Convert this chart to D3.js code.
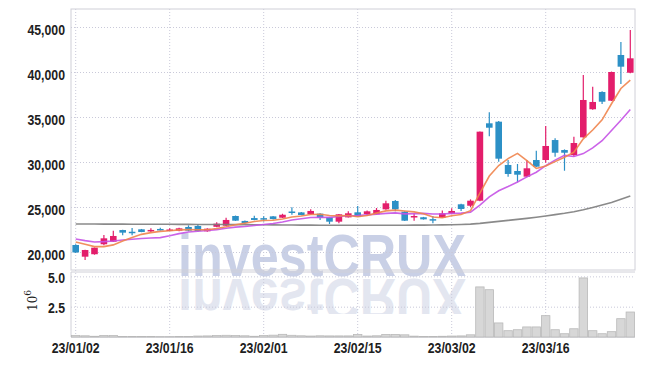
<!DOCTYPE html>
<html>
<head>
<meta charset="utf-8">
<script src="https://cdn.jsdelivr.net/npm/d3@7"></script>
<style>body{margin:0;background:#fff;}</style>
</head>
<body>
<script>
// trading days, 2023 (yy/mm/dd)
const dates = ["23/01/02","23/01/03","23/01/04","23/01/05","23/01/06","23/01/09","23/01/10","23/01/11","23/01/12","23/01/13",
  "23/01/16","23/01/17","23/01/18","23/01/19","23/01/20","23/01/25","23/01/26","23/01/27","23/01/30","23/01/31",
  "23/02/01","23/02/02","23/02/03","23/02/06","23/02/07","23/02/08","23/02/09","23/02/10","23/02/13","23/02/14",
  "23/02/15","23/02/16","23/02/17","23/02/20","23/02/21","23/02/22","23/02/23","23/02/24","23/02/27","23/02/28",
  "23/03/02","23/03/03","23/03/06","23/03/07","23/03/08","23/03/09","23/03/10","23/03/13","23/03/14","23/03/15",
  "23/03/16","23/03/17","23/03/20","23/03/21","23/03/22","23/03/23","23/03/24","23/03/27","23/03/28","23/03/29"];

const opens  = [20780,19480,19750,20860,21140,22440,22250,22520,22350,22560,
  22450,22370,22780,22890,22300,22800,22920,24000,23450,23770,
  23760,23960,23810,24500,24400,24190,24260,23860,23370,23850,
  24410,24220,24190,24740,25670,24480,23850,23860,23650,23810,
  24260,25300,25140,25700,34300,34480,29670,29000,28370,30220,
  30220,32440,31330,30780,32740,35860,37780,36810,41890,39920];
const highs  = [20850,20250,20500,21890,22370,22480,22670,22560,22650,22700,
  22650,22700,22960,23080,22650,23300,23810,24050,23500,24030,
  23980,24000,24250,24960,24450,24740,24300,23900,24220,24520,
  25110,24600,24890,25700,25780,24520,24300,23900,24000,24600,
  24850,25350,25850,33400,35520,34550,30220,29780,30220,31260,
  34000,32630,31400,32810,39670,38370,37850,40050,43330,44670];
const lows   = [19900,19110,19700,20740,21100,21850,21850,22200,22200,22400,
  22380,22300,22300,22280,22250,22750,22880,23450,23180,23520,
  23400,23600,23780,24140,24080,24150,23560,23110,23200,23820,
  23900,23990,24150,24700,24520,23450,23480,23600,23190,23780,
  24190,24560,25000,25650,32860,30030,28370,27740,28300,29450,
  29920,30590,29030,30600,32700,35800,36440,36780,38670,39850];
const closes = [19950,20220,20480,21520,21780,22150,22150,22220,22450,22500,
  22500,22630,22370,22330,22590,23150,23560,23480,23220,23560,
  23700,23660,24140,24400,24110,24560,23810,23370,24190,24300,
  23930,24520,24670,25410,24740,23480,24000,23630,23600,24300,
  24560,24780,25700,33370,33810,30370,28670,28590,29300,29480,
  31780,31030,31030,32110,36890,36670,36700,40000,40590,41520];
// volume, millions of shares
const volumes = [0.12,0.10,0.06,0.13,0.12,0.05,0.04,0.05,0.04,0.03,
  0.03,0.04,0.05,0.08,0.09,0.12,0.14,0.12,0.10,0.06,
  0.12,0.15,0.22,0.14,0.10,0.08,0.10,0.09,0.09,0.09,
  0.20,0.08,0.10,0.20,0.20,0.18,0.07,0.05,0.05,0.06,
  0.08,0.09,0.18,4.13,3.90,1.16,0.52,0.60,0.83,0.83,
  1.76,0.60,0.27,0.68,4.87,0.52,0.27,0.44,1.51,2.06];

// moving averages
const ma5  = [21110,20860,20600,20600,20790,21230,21620,21960,22150,22290,
  22360,22460,22490,22470,22480,22610,22800,23020,23200,23390,
  23500,23520,23660,23890,24000,24170,24200,24050,24010,24050,
  23920,24060,24320,24570,24650,24560,24460,24250,23890,23800,
  24020,24170,24590,26540,28440,29610,30380,30960,30150,29280,
  29560,30040,30520,31090,32570,33550,34680,36470,38170,39100];
const ma10 = [21440,21260,21110,21150,21220,21330,21410,21500,21560,21600,
  21800,22040,22230,22310,22390,22490,22630,22760,22830,22940,
  23060,23160,23340,23550,23700,23840,23860,23850,23950,24020,
  24050,24130,24190,24290,24350,24240,24260,24290,24230,24230,
  24290,24320,24420,25220,26120,26810,27280,27780,28350,28860,
  29590,30210,30740,30620,30930,31560,32360,33500,34630,35830];
const ma60 = [23110,23110,23110,23100,23100,23100,23090,23090,23090,23080,
  23080,23070,23070,23060,23060,23050,23050,23040,23040,23030,
  23020,23010,23000,23000,22990,22990,22980,22980,22970,22970,
  22970,22970,22970,22980,22980,22980,22990,22990,23000,23010,
  23030,23060,23100,23180,23290,23400,23510,23620,23740,23860,
  24000,24150,24300,24480,24700,24950,25220,25500,25850,26220];

const priceTicks = [20000,25000,30000,35000,40000,45000];
const volTicks = [2.5,5.0];
const tickDates = ["23/01/02","23/01/16","23/02/01","23/02/15","23/03/02","23/03/16"];

const W = 645, H = 366;
const mLeft = 71, mRight = 635, mTop = 9, priceBottom = 270, volTop = 272, volBottom = 337;
const red = "#e31d6b", blue = "#2c90c6";
const squeeze = 0.82;  // narrow the tick labels

const svg = d3.select("body").append("svg")
    .attr("width", W)
    .attr("height", H)
    .attr("font-family", "'DejaVu Sans', sans-serif")
    .attr("font-weight", "bold");

const x = d3.scaleBand().domain(dates).range([mLeft, mRight]);
const cx = d => x(d) + x.bandwidth() / 2;
const y = d3.scaleLinear().domain([18000, 47000]).range([priceBottom, mTop]);
const yv = d3.scaleLinear().domain([0, 5.36]).range([volBottom, volTop]);

// watermark + its reflection
const defs = svg.append("defs");
defs.append("text")
    .attr("id", "wmtext")
    .attr("x", 178).attr("y", 276)
    .attr("font-family", "'Liberation Sans', sans-serif")
    .attr("font-weight", "bold")
    .attr("font-size", 60)
    .attr("textLength", 288)
    .attr("lengthAdjust", "spacingAndGlyphs")
    .text("investCRUX");
defs.append("clipPath").attr("id", "refclip")
  .append("rect").attr("x", 0).attr("y", 278).attr("width", W).attr("height", 36);
defs.append("clipPath").attr("id", "mainclip")
  .append("rect").attr("x", 0).attr("y", 0).attr("width", W).attr("height", 277);

svg.append("g").attr("clip-path", "url(#mainclip)")
  .append("use").attr("href", "#wmtext").attr("fill", "#c9d0e6");
svg.append("g").attr("clip-path", "url(#refclip)")
  .append("use").attr("href", "#wmtext")
    .attr("transform", "translate(0,555) scale(1,-1)")
    .attr("fill", "#e3e6f0");

// gridlines
const gridStyle = g => g.selectAll(".tick line")
    .attr("stroke", "#c9c9d9").attr("stroke-dasharray", "1,2");
const labelStyle = g => g.selectAll("text")
    .attr("font-size", 15).attr("fill", "#1e1e1e").attr("font-family", null)
    .attr("transform", `scale(${squeeze},1)`);

svg.append("g")
    .attr("transform", `translate(${mLeft},0)`)
    .call(d3.axisLeft(y).tickValues(priceTicks).tickFormat(d3.format(",")).tickSize(-(mRight - mLeft)))
    .call(g => g.select(".domain").remove())
    .call(gridStyle)
    .call(labelStyle)
    .call(g => g.selectAll("text").attr("x", -6 / squeeze).attr("dy", "0.5em"));

svg.append("g")
    .attr("transform", `translate(${mLeft},0)`)
    .call(d3.axisLeft(yv).tickValues(volTicks).tickFormat(d3.format(".1f")).tickSize(-(mRight - mLeft)))
    .call(g => g.select(".domain").remove())
    .call(gridStyle)
    .call(labelStyle)
    .call(g => g.selectAll("text").attr("x", -6 / squeeze).attr("dy", "0.4em"));

svg.append("g")
    .attr("transform", `translate(0,${volBottom})`)
    .call(d3.axisBottom(x).tickValues(tickDates).tickSize(-(volBottom - mTop)).tickPadding(5))
    .call(g => g.select(".domain").remove())
    .call(gridStyle)
    .call(labelStyle);

// panel borders
svg.append("rect").attr("x", mLeft).attr("y", mTop).attr("width", mRight - mLeft).attr("height", priceBottom - mTop)
    .attr("fill", "none").attr("stroke", "#d0d0d8");
svg.append("line").attr("x1", mLeft).attr("x2", mRight).attr("y1", volTop).attr("y2", volTop).attr("stroke", "#d0d0d8");
svg.append("line").attr("x1", mLeft).attr("x2", mLeft).attr("y1", volTop).attr("y2", volBottom).attr("stroke", "#d0d0d8");
svg.append("line").attr("x1", mLeft).attr("x2", mRight).attr("y1", volBottom).attr("y2", volBottom).attr("stroke", "#bcbcc4");

// 10^6 label
const ul = svg.append("text")
    .attr("transform", "translate(37,311) rotate(-90)")
    .attr("font-family", "'DejaVu Serif', serif")
    .attr("font-weight", "normal")
    .attr("font-size", 12).attr("fill", "#1e1e1e");
ul.append("tspan").text("10");
ul.append("tspan").attr("dy", -6).attr("font-size", 9).text("6");

// volume bars
svg.append("g").selectAll("rect")
  .data(dates)
  .join("rect")
    .attr("x", d => x(d) + 0.5)
    .attr("width", x.bandwidth() - 1)
    .attr("y", (d, i) => yv(volumes[i]))
    .attr("height", (d, i) => volBottom - yv(volumes[i]))
    .attr("fill", "#d7d7d7")
    .attr("stroke", "#b9b9b9")
    .attr("stroke-width", 0.8);

// candles
const candle = svg.append("g").selectAll("g")
  .data(dates)
  .join("g")
    .attr("stroke", (d, i) => closes[i] >= opens[i] ? red : blue)
    .attr("fill", (d, i) => closes[i] >= opens[i] ? red : blue);

candle.append("line")
    .attr("x1", cx).attr("x2", cx)
    .attr("y1", (d, i) => y(highs[i]))
    .attr("y2", (d, i) => y(lows[i]))
    .attr("stroke-width", 1.2);

candle.append("rect")
    .attr("x", d => cx(d) - 3.3)
    .attr("width", 6.6)
    .attr("y", (d, i) => y(Math.max(opens[i], closes[i])))
    .attr("height", (d, i) => Math.max(1.5, Math.abs(y(opens[i]) - y(closes[i]))))
    .attr("stroke", "none");

// moving average lines
const drawLine = (vals, color) => svg.append("path")
    .datum(dates)
    .attr("fill", "none")
    .attr("stroke", color)
    .attr("stroke-width", 1.6)
    .attr("stroke-opacity", 0.9)
    .attr("d", d3.line().x(cx).y((d, i) => y(vals[i])));

drawLine(ma60, "#7d7d7d");
drawLine(ma10, "#c552e6");
drawLine(ma5, "#f0844c");
</script>
</body>
</html>
